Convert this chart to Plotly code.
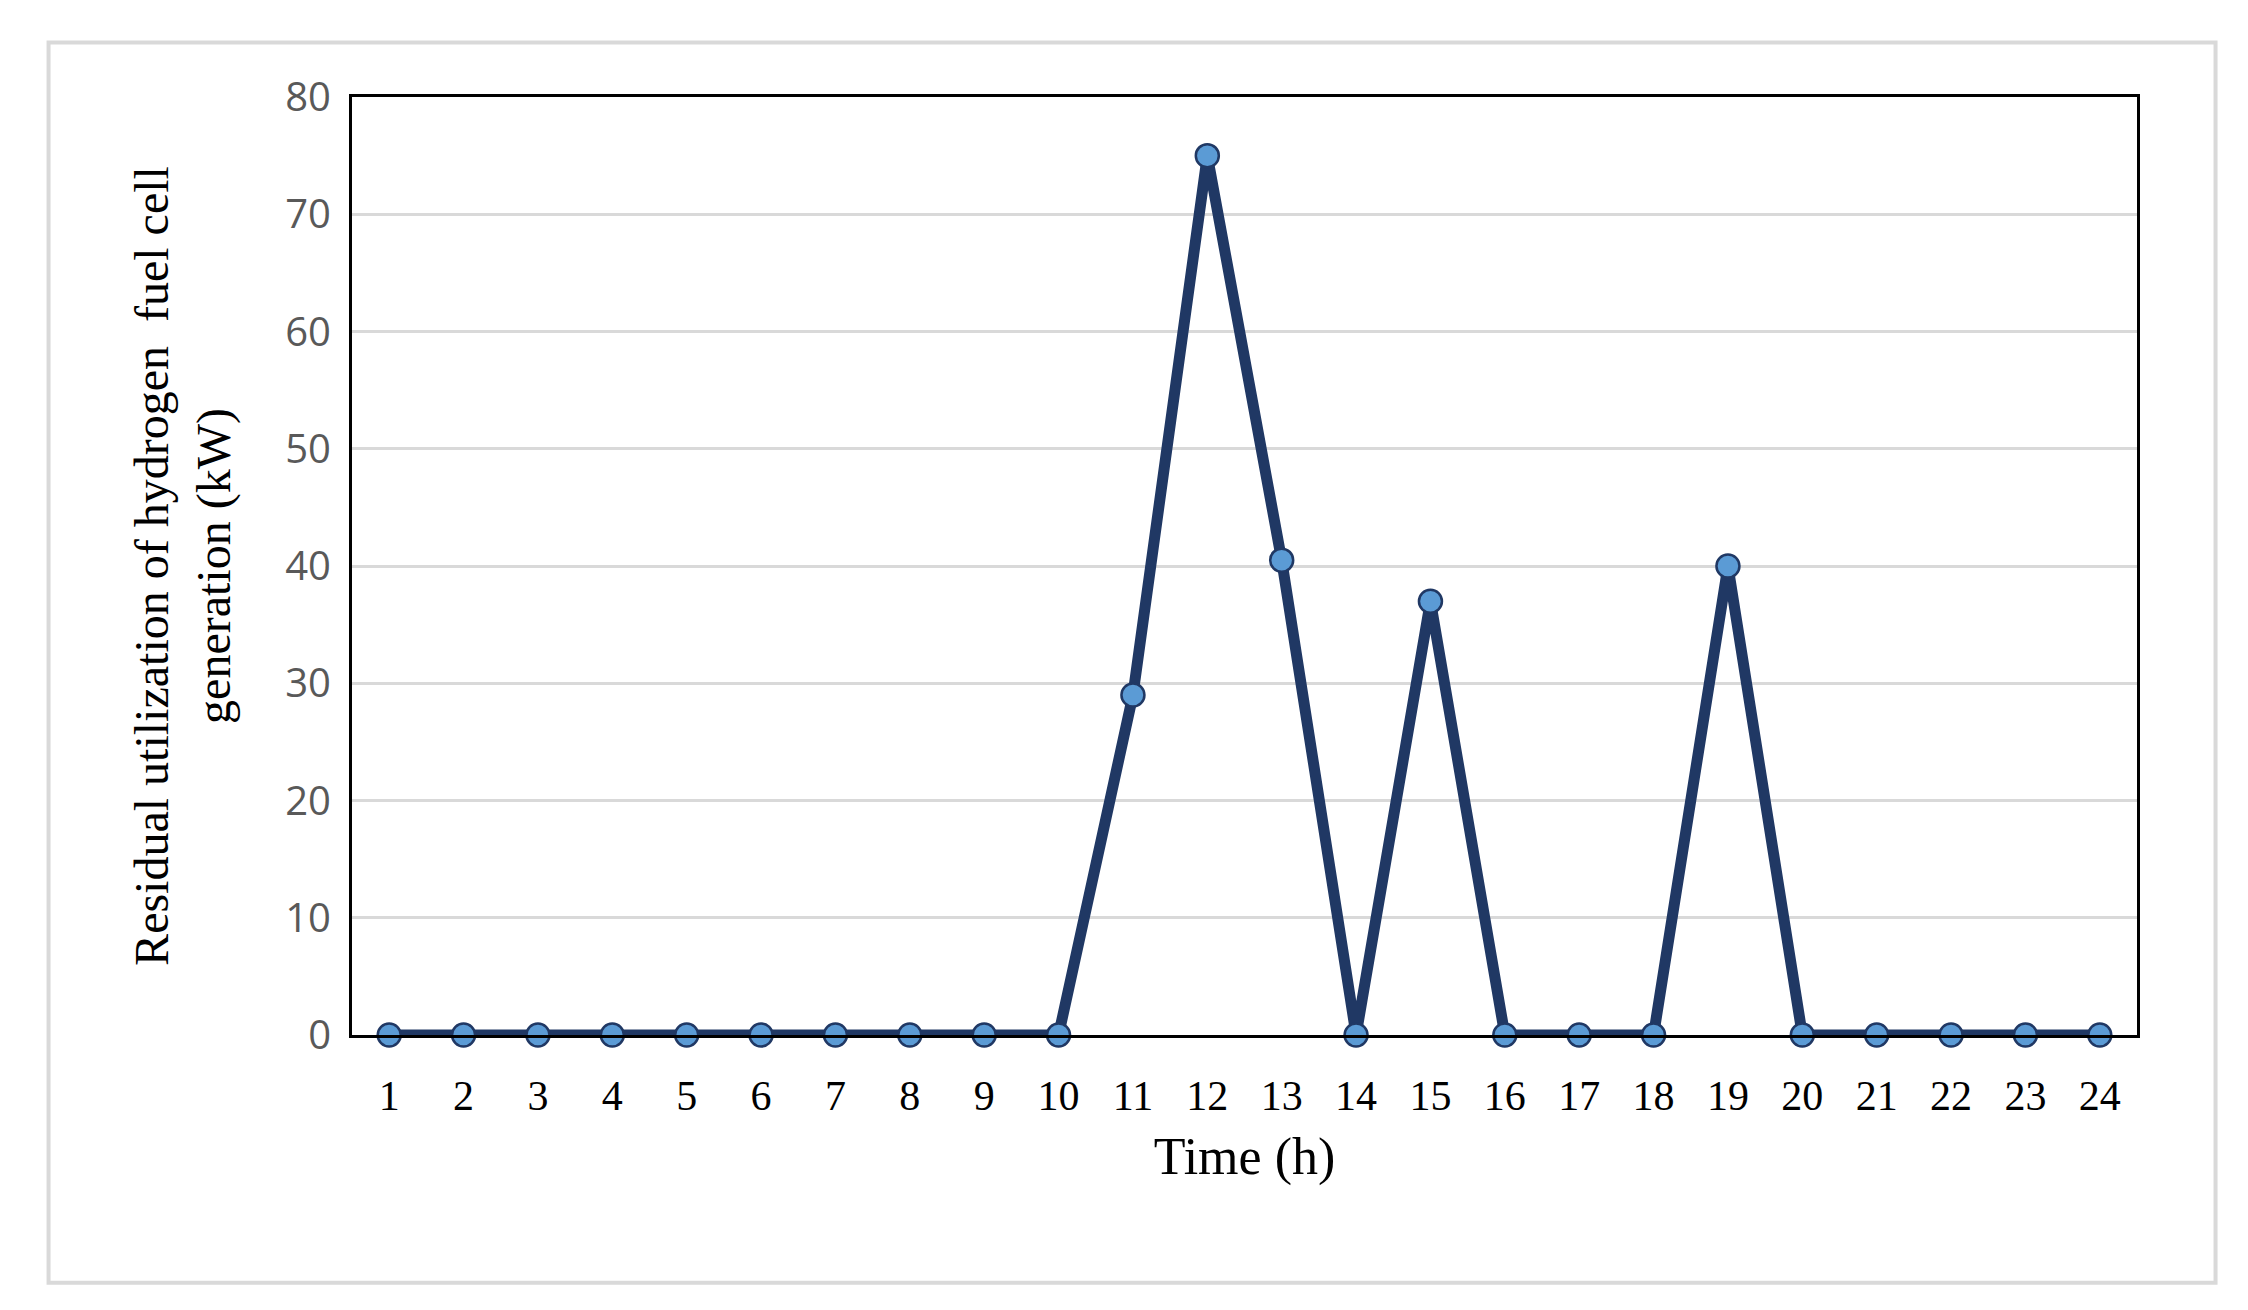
import plotly.graph_objects as go

hours = list(range(1, 25))
residual_kw = [0, 0, 0, 0, 0, 0, 0, 0, 0, 0, 29, 75, 40.5, 0, 37, 0, 0, 0, 40, 0, 0, 0, 0, 0]

fig = go.Figure()
fig.add_trace(go.Scatter(
    x=hours, y=residual_kw, mode="lines+markers",
    line=dict(color="#203864", width=11),
    marker=dict(size=23, color="#5B9BD5", line=dict(color="#203864", width=2.5)),
    showlegend=False, cliponaxis=False,
))
fig.update_layout(
    width=2248, height=1310,
    margin=dict(l=344, r=119, t=89, b=283),
    paper_bgcolor="white", plot_bgcolor="white",
    shapes=[dict(type="rect", xref="paper", yref="paper",
                 x0=-0.170, x1=1.044, y0=-0.264, y1=1.058,
                 line=dict(color="#D9D9D9", width=4), layer="below")],
)
fig.update_xaxes(
    range=[0.5, 24.5], tickmode="array", tickvals=hours, ticktext=[str(h) for h in hours],
    showgrid=False, showline=True, linecolor="black", linewidth=3, mirror=True,
    ticks="", ticklabelstandoff=22, tickfont=dict(family="Liberation Serif", size=42, color="black"),
    title=dict(text="Time (h)", font=dict(family="Liberation Serif", size=52, color="black"), standoff=20),
)
fig.update_yaxes(
    range=[0, 80], dtick=10, showgrid=True, gridcolor="#D9D9D9", gridwidth=3,
    showline=True, linecolor="black", linewidth=3, mirror=True, zeroline=False,
    ticks="", ticklabelstandoff=10, tickfont=dict(family="Open Sans", size=40, color="#595959"),
    title=dict(text="Residual utilization of hydrogen  fuel cell<br>generation (kW)",
               font=dict(family="Liberation Serif", size=48, color="black"), standoff=40),
)
fig.write_html("out.html")
